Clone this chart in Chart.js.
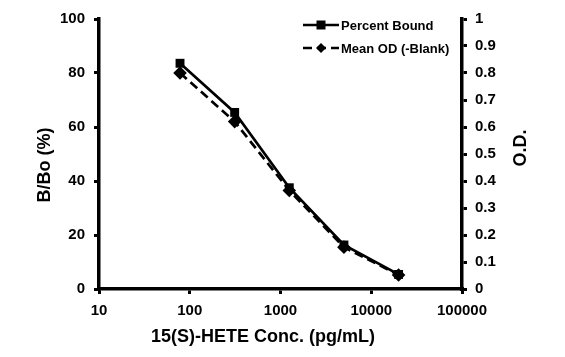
<!DOCTYPE html>
<html>
<head>
<meta charset="utf-8">
<script src="https://cdn.jsdelivr.net/npm/chart.js@4.4.0/dist/chart.umd.min.js"></script>
<style>
html,body{margin:0;padding:0;background:#fff;}
#wrap{width:565px;height:357px;position:relative;}
</style>
</head>
<body>
<div id="wrap"><canvas id="c" width="565" height="357"></canvas></div>
<script>
// ---- data ----
const concentrations = [78.125, 312.5, 1250, 5000, 20000];
const percentBound = [83.6, 65.4, 37.5, 16.3, 5.4];
const meanOD = [0.80, 0.62, 0.365, 0.155, 0.052];
const xTickValues = [10, 100, 1000, 10000, 100000];
const seriesNames = ['Percent Bound', 'Mean OD (-Blank)'];
const xTitle = '15(S)-HETE Conc. (pg/mL)';
const yTitle = 'B/Bo (%)';
const y1Title = 'O.D.';

const FONT = '"Liberation Sans", Arial, sans-serif';

const titlesAndLegend = {
  id: 'titlesAndLegend',
  afterDraw(chart) {
    const ctx = chart.ctx;
    ctx.save();
    ctx.fillStyle = '#000';
    ctx.textAlign = 'center';
    ctx.textBaseline = 'middle';
    ctx.font = 'bold 18px ' + FONT;
    ctx.fillText(xTitle, 263, 337);
    ctx.save();
    ctx.translate(45, 165);
    ctx.rotate(-Math.PI / 2);
    ctx.fillText(yTitle, 0, 0);
    ctx.restore();
    ctx.save();
    ctx.translate(521, 148);
    ctx.rotate(-Math.PI / 2);
    ctx.fillText(y1Title, 0, 0);
    ctx.restore();

    const rows = [
      {y: 25, dash: [], marker: 'rect'},
      {y: 48, dash: [9, 5], marker: 'rectRot'}
    ];
    ctx.font = 'bold 13px ' + FONT;
    ctx.textAlign = 'left';
    rows.forEach((r, i) => {
      ctx.strokeStyle = '#000';
      ctx.lineWidth = 2.7;
      ctx.setLineDash(r.dash);
      ctx.beginPath();
      ctx.moveTo(303, r.y);
      ctx.lineTo(339, r.y);
      ctx.stroke();
      ctx.setLineDash([]);
      ctx.fillStyle = '#000';
      ctx.beginPath();
      if (r.marker === 'rect') {
        ctx.rect(316.5, r.y - 4.5, 9, 9);
      } else {
        ctx.moveTo(321, r.y - 5);
        ctx.lineTo(326, r.y);
        ctx.lineTo(321, r.y + 5);
        ctx.lineTo(316, r.y);
        ctx.closePath();
      }
      ctx.fill();
      ctx.fillText(seriesNames[i], 341, r.y + 1);
    });
    ctx.restore();
  }
};

const tickFont = {family: FONT, size: 15, weight: 'bold'};

new Chart(document.getElementById('c'), {
  type: 'line',
  data: {
    datasets: [
      {
        label: seriesNames[0],
        data: concentrations.map((x, i) => ({x: x, y: percentBound[i]})),
        yAxisID: 'y',
        borderColor: '#000',
        backgroundColor: '#000',
        borderWidth: 2.7,
        pointStyle: 'rect',
        pointRadius: 6.3,
        pointBorderWidth: 0,
        tension: 0
      },
      {
        label: seriesNames[1],
        data: concentrations.map((x, i) => ({x: x, y: meanOD[i]})),
        yAxisID: 'y1',
        borderColor: '#000',
        backgroundColor: '#000',
        borderWidth: 2.7,
        borderDash: [9, 5],
        pointStyle: 'rectRot',
        pointRadius: 6.8,
        pointBorderWidth: 0,
        tension: 0
      }
    ]
  },
  options: {
    responsive: false,
    animation: false,
    layout: {padding: {top: 19, left: 0, right: 0, bottom: 0}},
    plugins: {legend: {display: false}, tooltip: {enabled: false}},
    scales: {
      x: {
        type: 'logarithmic',
        min: 10,
        max: 100000,
        afterBuildTicks(scale) { scale.ticks = xTickValues.map(v => ({value: v})); },
        afterFit(scale) { scale.height = 68; },
        ticks: {color: '#000', font: tickFont, padding: 8, maxRotation: 0, autoSkip: false,
          callback: v => String(v)},
        grid: {display: true, drawOnChartArea: false, drawTicks: true, tickLength: 5, lineWidth: 3, color: '#000'},
        border: {display: true, color: '#000', width: 3.5}
      },
      y: {
        type: 'linear',
        position: 'left',
        min: 0,
        max: 100,
        ticks: {stepSize: 20, color: '#000', font: tickFont, padding: 9},
        afterFit(scale) { scale.width = 99; },
        grid: {display: true, drawOnChartArea: false, drawTicks: true, tickLength: 5, lineWidth: 3, color: '#000'},
        border: {display: true, color: '#000', width: 3.5}
      },
      y1: {
        type: 'linear',
        position: 'right',
        min: 0,
        max: 1,
        ticks: {stepSize: 0.1, color: '#000', font: tickFont, padding: 8,
          callback: v => String(Number(v.toFixed(1)))},
        afterFit(scale) { scale.width = 103; },
        grid: {display: true, drawOnChartArea: false, drawTicks: true, tickLength: 5, lineWidth: 3, color: '#000'},
        border: {display: true, color: '#000', width: 3.5}
      }
    }
  },
  plugins: [titlesAndLegend]
});
</script>
</body>
</html>
